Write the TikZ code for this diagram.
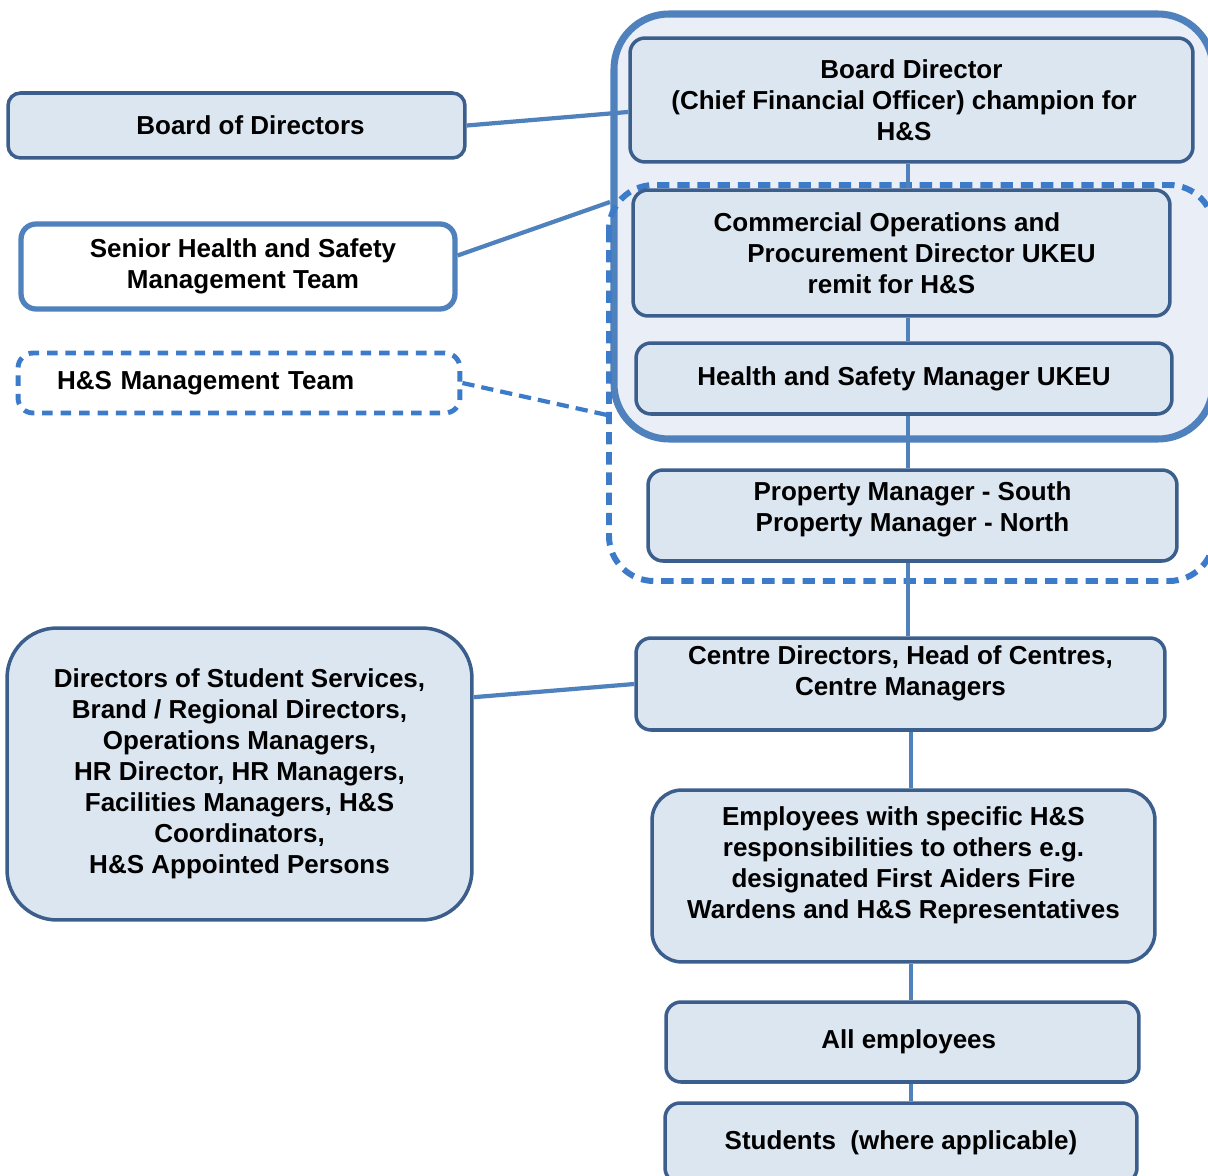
\documentclass[tikz,border=0pt]{standalone}
\usepackage{fontspec}
\setmainfont{Liberation Sans}
\usetikzlibrary{calc}

\definecolor{boxfill}{HTML}{DCE6F1}
\definecolor{boxline}{HTML}{3B5E8C}
\definecolor{grpfill}{HTML}{EAEFF7}
\definecolor{grpline}{HTML}{4F81BD}
\definecolor{dashline}{HTML}{3C7BC9}

\tikzset{
  box/.style={draw=boxline, fill=boxfill, line width=2pt, rounded corners=0.3cm,
    align=center, inner sep=0pt, font=\fontsize{14.8}{17.6}\selectfont\bfseries},
  link/.style={draw=grpline, line width=2.4pt},
  spine/.style={draw=grpline, line width=1.8pt},
}
% invisible depth to lift a node's text
\newcommand{\liftby}[1]{\rule[-#1]{0pt}{#1}}

\begin{document}
\begin{tikzpicture}[x=0.02cm, y=-0.02cm]
    \useasboundingbox (0,0) rectangle (1208,1176);
    \clip (0,0) rectangle (1208,1176);
    \fill[white] (0,0) rectangle (1208,1176);

    % groups on the right
    \draw[draw=grpline, fill=grpfill, line width=4pt, rounded corners=1.1cm]
        (614,14) rectangle (1213,439);
    \draw[draw=dashline, line width=3.4pt, dash pattern=on 7pt off 4.5pt, rounded corners=0.9cm]
        (609,185) rectangle (1214,581);

    % main chain
    \node[box, minimum width=11.26cm, minimum height=2.48cm] (bd) at (911.5,100)
        {Board Director\\(Chief Financial Officer) champion for\hspace*{0.3cm}\null\\H\&S\hspace*{0.3cm}\null};
    \node[box, minimum width=10.74cm, minimum height=2.52cm] (cop) at (901.5,253)
        {Commercial Operations and\hspace*{0.58cm}\null\\\hspace*{0.8cm}Procurement Director UKEU\\remit for H\&S\hspace*{0.4cm}\null};
    \node[box, minimum width=10.72cm, minimum height=1.42cm] (hsm) at (904,378.5)
        {Health and Safety Manager UKEU};
    \node[box, minimum width=10.58cm, minimum height=1.82cm] (pm) at (912.5,515.5)
        {Property Manager - South\\Property Manager - North\liftby{0.34cm}};
    \node[box, minimum width=10.58cm, minimum height=1.84cm] (cd) at (900.5,684)
        {Centre Directors, Head of Centres,\\Centre Managers\liftby{0.52cm}};
    \node[box, minimum width=10.06cm, minimum height=3.44cm, rounded corners=0.6cm] (emp) at (903.5,876)
        {Employees with specific H\&S\\responsibilities to others e.g.\\designated First Aiders Fire\\Wardens and H\&S Representatives\liftby{0.54cm}};
    \node[box, minimum width=9.46cm, minimum height=1.6cm] (alle) at (902.5,1042)
        {\hspace*{0.25cm}All employees};
    \node[box, minimum width=9.44cm, minimum height=1.6cm] (stu) at (901,1143)
        {Students \ (where applicable)};

    % left side
    \node[box, minimum width=9.14cm, minimum height=1.3cm, rounded corners=0.25cm] (bod) at (236.5,125.5)
        {\hspace*{0.56cm}Board of Directors};
    \node[box, draw=grpline, fill=white, line width=3pt, minimum width=8.68cm, minimum height=1.7cm] (shs) at (238,266.5)
        {\hspace*{0.2cm}Senior Health and Safety\\\hspace*{0.2cm}Management Team};
    \node[box, draw=dashline, fill=white, line width=2.8pt, dash pattern=on 6pt off 4.5pt,
        align=left, text width=7.28cm, inner xsep=0.78cm, minimum height=1.2cm] (hsmt) at (239,383)
        {H\&S Management Team};
    \node[box, minimum width=9.3cm, minimum height=5.84cm, rounded corners=1cm] (dss) at (239.5,774)
        {Directors of Student Services,\\Brand / Regional Directors,\\Operations Managers,\\HR Director, HR Managers,\\Facilities Managers, H\&S\\Coordinators,\\H\&S Appointed Persons};

    % links to the groups
    \coordinate (bdjoin) at (628,112);
    \coordinate (grpjoin) at (610,202);
    \coordinate (dashjoin) at (607,415);
    \draw[link] (bod.east) -- (bdjoin);
    \draw[link] ($(shs.east)+(0,-11)$) -- (grpjoin);
    \draw[link, draw=dashline, dash pattern=on 7pt off 4pt] (hsmt.east) -- (dashjoin);
    \draw[link] ($(dss.north east)!0.24!(dss.south east)$) -- (cd.west);

    % vertical spine
    \coordinate (axis) at (908,0);
    \coordinate (axislow) at (911,0);
    \draw[spine] (axis |- bd.south) -- (axis |- cop.north);
    \draw[spine] (axis |- cop.south) -- (axis |- hsm.north);
    \draw[spine] (axis |- hsm.south) -- (axis |- pm.north);
    \draw[spine] (axis |- pm.south) -- (axis |- cd.north);
    \draw[spine] (axislow |- cd.south) -- (axislow |- emp.north);
    \draw[spine] (axislow |- emp.south) -- (axislow |- alle.north);
    \draw[spine] (axislow |- alle.south) -- (axislow |- stu.north);
\end{tikzpicture}
\end{document}
